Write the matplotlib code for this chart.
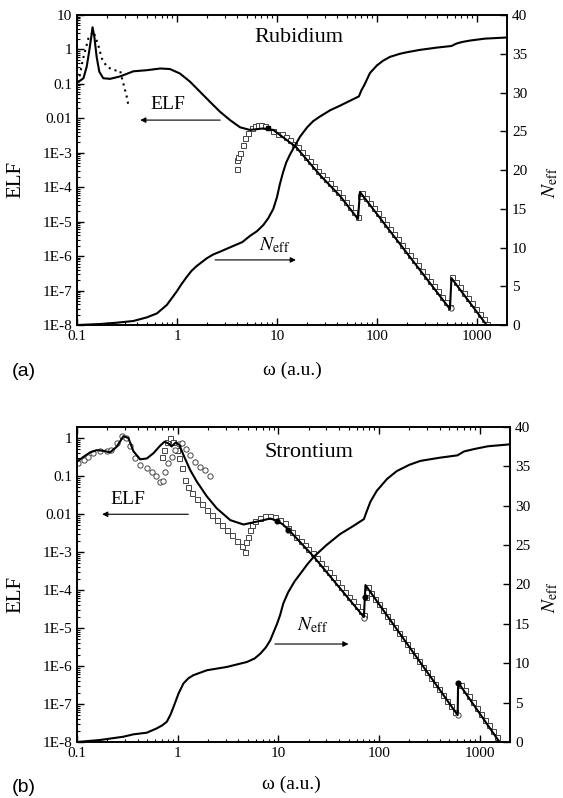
import numpy as np
import matplotlib
matplotlib.use("Agg")
import matplotlib.pyplot as plt
from matplotlib.ticker import FixedLocator, LogLocator, NullFormatter

plt.rcParams["font.family"] = ["Liberation Serif", "DejaVu Serif"]
plt.rcParams["mathtext.fontset"] = "stix"

# ---------------- (a) Rubidium ----------------
rb_w = [0.1, 0.116, 0.125, 0.133, 0.139, 0.143, 0.149, 0.157, 0.167, 0.183, 0.214, 0.27,
        0.366, 0.5, 0.68, 0.85, 1.07, 1.35, 1.7, 2.14, 2.69, 3.39, 4.27, 5.37, 7.3, 9.2,
        10.7, 15.5, 26.9, 42.7, 64.6, 67.6, 537, 556, 1250]
rb_elf = [0.107, 0.146, 0.316, 0.97, 2.35, 4.4, 2.35, 0.62, 0.226, 0.146, 0.14, 0.165,
          0.232, 0.25, 0.28, 0.27, 0.2, 0.116, 0.059, 0.03, 0.0156, 8.9e-3, 5.5e-3, 4.6e-3,
          5.1e-3, 4.6e-3, 3.3e-3, 1.47e-3, 2.26e-4, 5.6e-5, 1.2e-5, 7.3e-5, 2.9e-8, 2.3e-7, 1e-8]

# dotted low-energy curve
rb_dot_w = [0.103, 0.114, 0.13, 0.146, 0.163, 0.177, 0.198, 0.231, 0.27, 0.29, 0.314, 0.326]
rb_dot_elf = [0.11, 0.49, 2.1, 3.3, 1.35, 0.55, 0.32, 0.25, 0.24, 0.105, 0.043, 0.0245]

# open squares
rb_sq_w = [3.95, 4.0, 4.1, 4.27, 4.54, 4.79, 5.18, 5.6, 6.0, 6.5, 7.0, 7.6, 9.2, 10.3,
           11.2, 12.3, 13.5, 14.8, 16.2, 17.8, 19.5, 21.4, 23.4, 25.7, 28.2, 30.9, 33.9,
           37.2, 40.7, 44.7, 49.0, 53.7, 58.9, 64.6,
           67.6,
           70.8, 77.6, 85.1, 93.3, 102, 112, 123, 135, 148, 162, 178, 195, 214, 234, 257,
           282, 309, 339, 372, 407, 447, 490, 537,
           562, 617, 676, 741, 813, 891, 977, 1072, 1175, 1260]
rb_sq_elf = [3.3e-4, 6.0e-4, 7.7e-4, 9.7e-4, 1.68e-3, 2.6e-3, 3.7e-3, 5.1e-3, 5.9e-3, 6.3e-3,
             6.3e-3, 5.9e-3, 4.3e-3, 3.6e-3,
             3.4e-3, 2.78e-3, 2.28e-3, 1.86e-3, 1.44e-3, 1.05e-3, 7.7e-4, 5.7e-4, 4.1e-4,
             3.0e-4, 2.25e-4, 1.7e-4, 1.29e-4, 9.7e-5, 7.3e-5, 5.3e-5, 3.8e-5, 2.7e-5,
             1.92e-5, 1.37e-5,
             5.5e-5,
             7.0e-5, 4.9e-5, 3.5e-5, 2.46e-5, 1.74e-5, 1.23e-5, 8.7e-6, 6.1e-6, 4.3e-6,
             3.06e-6, 2.16e-6, 1.52e-6, 1.08e-6, 7.6e-7, 5.4e-7, 3.8e-7, 2.7e-7, 1.9e-7,
             1.34e-7, 9.5e-8, 6.7e-8, 4.7e-8, 3.3e-8,
             2.5e-7, 1.77e-7, 1.24e-7, 8.7e-8, 6.2e-8, 4.3e-8, 3.0e-8, 2.1e-8, 1.5e-8, 1.1e-8]
rb_fill_w = [8.2]
rb_fill_elf = [5.1e-3]
rb_circ_w = [545]
rb_circ_elf = [3.2e-8]

rb_neff_w = [0.1, 0.17, 0.25, 0.366, 0.5, 0.63, 0.79, 0.99, 1.1, 1.25, 1.4, 1.57, 1.98, 2.3,
             2.69, 3.65, 4.5, 5.37, 6.3, 7.3, 8.2, 9.2, 10.0, 10.7, 11.5, 12.4, 13.5, 14.6,
             17, 20, 23, 26.9, 33.9, 42.7, 55, 66, 70, 75, 85, 100, 115, 135, 170, 200, 269,
             400, 556, 620, 700, 850, 1200, 2000]
rb_neff = [0, 0.13, 0.3, 0.52, 0.99, 1.5, 2.58, 4.3, 5.2, 6.2, 7.0, 7.6, 8.6, 9.1, 9.46,
           10.2, 10.7, 11.5, 12.1, 12.9, 13.8, 15.0, 16.5, 18.2, 19.7, 21.0, 22.0, 22.8,
           24.3, 25.5, 26.3, 26.9, 27.7, 28.3, 29.0, 29.5, 30.3, 31.0, 32.5, 33.5, 34.1,
           34.6, 35.0, 35.2, 35.5, 35.8, 36.0, 36.3, 36.5, 36.7, 36.95, 37.1]

# ---------------- (b) Strontium ----------------
sr_w = [0.1, 0.116, 0.135, 0.157, 0.183, 0.213, 0.248, 0.289, 0.324, 0.363, 0.424, 0.494,
        0.575, 0.67, 0.74, 0.81, 0.87, 0.96, 1.04, 1.14, 1.33, 1.55, 1.95, 2.45, 3.33, 4.5,
        6.1, 8.3, 9.7, 11.2, 13.2, 22.5, 70.7, 73.3, 604, 610, 1570]
sr_elf = [0.238, 0.32, 0.42, 0.48, 0.46, 0.42, 0.59, 1.12, 1.0, 0.45, 0.275, 0.29, 0.40,
          0.63, 0.8, 0.72, 0.6, 0.77, 0.65, 0.36, 0.144, 0.071, 0.029, 0.014, 6.9e-3,
          5.3e-3, 6.3e-3, 7.6e-3, 6.7e-3, 5.2e-3, 3.4e-3, 7.5e-4, 1.95e-5, 1.35e-4, 5.1e-8,
          3.7e-7, 1e-8]

# open circles
sr_circ_w = [0.103, 0.116, 0.13, 0.145, 0.169, 0.197, 0.22, 0.248, 0.278, 0.307, 0.337,
             0.378, 0.424, 0.494, 0.554, 0.61, 0.66, 0.71, 0.75, 0.81, 0.876, 0.945, 1.02,
             1.1, 1.21, 1.33, 1.49, 1.67, 1.88, 2.1, 70.7, 604]
sr_circ_elf = [0.216, 0.26, 0.32, 0.41, 0.46, 0.46, 0.48, 0.72, 1.13, 1.0, 0.6, 0.29, 0.195,
               0.16, 0.13, 0.1, 0.07, 0.074, 0.13, 0.22, 0.32, 0.48, 0.69, 0.74, 0.53, 0.36,
               0.24, 0.175, 0.14, 0.1, 1.8e-5, 5.1e-8]

# open squares
sr_sq_w = [0.70, 0.73, 0.78, 0.83, 0.89, 0.98, 1.04, 1.10, 1.19, 1.28, 1.38, 1.55, 1.74,
           1.95, 2.18, 2.45, 2.75, 3.08, 3.45, 3.87, 4.34, 4.70,
           4.8, 4.95, 5.2, 5.5, 5.9, 6.6, 7.4, 8.3, 9.3, 10.4, 11.7,
           12.6, 13.8, 15.1, 16.6, 18.2, 19.9, 21.9, 24.0, 26.3, 28.9, 31.7, 34.8, 38.2,
           41.9, 45.9, 50.4, 55.3, 60.6, 66.5, 71.2,
           73.5,
           77.3, 84.1, 92.0, 100.8, 110, 121, 132, 145, 159, 174, 190, 208, 228, 250, 274,
           300, 328, 360, 394, 431, 473, 518, 567,
           654, 717, 785, 860, 942, 1030, 1130, 1240, 1350, 1480]
sr_sq_elf = [0.32, 0.48, 0.80, 1.0, 0.77, 0.48, 0.29, 0.16, 0.078, 0.05, 0.035, 0.025,
             0.018, 0.013, 9.5e-3, 7.0e-3, 5.2e-3, 3.8e-3, 2.8e-3, 2.0e-3, 1.4e-3, 9.8e-4,
             1.87e-3, 2.5e-3, 3.8e-3, 5.2e-3, 6.6e-3, 8.0e-3, 9.0e-3, 9.0e-3, 8.4e-3,
             6.9e-3, 5.7e-3,
             4.4e-3, 3.4e-3, 2.56e-3, 1.97e-3, 1.52e-3, 1.17e-3, 9.2e-4, 6.9e-4, 5.2e-4,
             3.9e-4, 2.9e-4, 2.15e-4, 1.6e-4, 1.2e-4, 9.0e-5, 6.7e-5, 5.0e-5, 3.7e-5,
             2.8e-5, 2.2e-5,
             6.6e-5,
             1.18e-4, 8.4e-5, 5.9e-5, 4.2e-5, 2.98e-5, 2.12e-5, 1.5e-5, 1.06e-5, 7.6e-6,
             5.4e-6, 3.8e-6, 2.7e-6, 1.9e-6, 1.36e-6, 9.6e-7, 6.8e-7, 4.8e-7, 3.4e-7,
             2.44e-7, 1.73e-7, 1.22e-7, 8.6e-8, 6.2e-8,
             3.2e-7, 2.3e-7, 1.6e-7, 1.13e-7, 7.9e-8, 5.6e-8, 3.9e-8, 2.8e-8, 1.9e-8, 1.37e-8]
sr_fill_w = [9.7, 12.6, 73.3, 610]
sr_fill_elf = [6.6e-3, 3.9e-3, 6.6e-5, 3.6e-7]

sr_neff_w = [0.1, 0.169, 0.289, 0.363, 0.494, 0.62, 0.7, 0.78, 0.85, 0.91, 1.02, 1.14, 1.28,
             1.43, 1.95, 3.08, 4.87, 5.8, 6.6, 7.5, 8.3, 9.0, 9.7, 10.4, 11.2, 12.5, 14.5,
             16.6, 19.5, 22.4, 30, 41, 55, 70.7, 75, 82, 95, 120, 150, 200, 258, 400, 600,
             700, 880, 1200, 2000]
sr_neff = [0, 0.25, 0.67, 0.97, 1.18, 1.73, 2.1, 2.57, 3.5, 4.47, 6.16, 7.43, 8.1, 8.48,
           9.11, 9.53, 10.16, 10.6, 11.2, 12.0, 12.9, 14.0, 15.0, 16.1, 17.6, 19.0, 20.4,
           21.4, 22.6, 23.5, 25.0, 26.4, 27.4, 28.3, 29.2, 30.5, 31.9, 33.4, 34.4, 35.2,
           35.7, 36.1, 36.4, 36.9, 37.2, 37.55, 37.8]

x_ticks = [0.1, 1, 10, 100, 1000]
x_ticklabels = ["0.1", "1", "10", "100", "1000"]
y_ticks = [1e-8, 1e-7, 1e-6, 1e-5, 1e-4, 1e-3, 1e-2, 1e-1, 1, 10]
y_ticklabels = ["1E-8", "1E-7", "1E-6", "1E-5", "1E-4", "1E-3", "0.01", "0.1", "1", "10"]


def setup(ax, ytop):
    ax.set_xscale("log")
    ax.set_yscale("log")
    ax.set_xlim(0.1, 2000)
    ax.set_ylim(1e-8, ytop)
    ax.xaxis.set_major_locator(FixedLocator(x_ticks))
    ax.set_xticklabels(x_ticklabels)
    ax.xaxis.set_minor_locator(LogLocator(base=10, subs=np.arange(2, 10), numticks=30))
    ax.xaxis.set_minor_formatter(NullFormatter())
    yt = [t for t in y_ticks if t <= ytop]
    ax.yaxis.set_major_locator(FixedLocator(yt))
    ax.set_yticklabels(y_ticklabels[:len(yt)])
    ax.yaxis.set_minor_locator(LogLocator(base=10, subs=np.arange(2, 10), numticks=30))
    ax.yaxis.set_minor_formatter(NullFormatter())
    ax.tick_params(which="major", direction="in", length=5, width=1.0, top=True, labelsize=11)
    ax.tick_params(which="minor", direction="in", length=2.5, width=0.8, top=True)
    for s in ax.spines.values():
        s.set_linewidth(1.2)


def neff_axis(ax, w, n):
    ax2 = ax.twinx()
    ax2.plot(w, n, color="k", lw=1.5)
    ax2.set_ylim(0, 40)
    ax2.set_yticks(range(0, 41, 5))
    ax2.tick_params(direction="in", length=5, width=1.0, labelsize=11)
    ax2.set_ylabel(r"$N_{\rm eff}$", fontsize=14)
    for s in ax2.spines.values():
        s.set_linewidth(1.2)
    return ax2


def arrow(ax, x0, x1, y):
    ax.annotate("", xy=(x1, y), xytext=(x0, y), xycoords="axes fraction",
                arrowprops=dict(arrowstyle="-|>", color="k", lw=0.8, mutation_scale=8,
                                shrinkA=0, shrinkB=0))


fig = plt.figure(figsize=(5.63, 7.98), dpi=100)
sq_style = dict(ls="none", marker="s", ms=3.6, mfc="white", mec="#444444", mew=0.7, zorder=2)
ci_style = dict(ls="none", marker="o", ms=3.8, mfc="white", mec="#444444", mew=0.7, zorder=2)

# panel (a)
ax = fig.add_axes([0.1368, 0.5927, 0.7638, 0.3885])
setup(ax, 10)
ax.plot(rb_sq_w, rb_sq_elf, **sq_style)
ax.plot(rb_circ_w, rb_circ_elf, **ci_style)
ax.plot(rb_w, rb_elf, color="k", lw=1.5, zorder=3)
ax.plot(rb_dot_w, rb_dot_elf, color="k", lw=1.5, ls=(0, (1, 2)), zorder=3)
ax.plot(rb_fill_w, rb_fill_elf, ls="none", marker="s", ms=3.4, color="k", zorder=4)
ax.set_ylabel("ELF", fontsize=15)
ax.yaxis.set_label_coords(-0.121, 0.47)
ax.set_xlabel("ω (a.u.)", fontsize=14)
ax.xaxis.set_label_coords(0.5, -0.119)
ax.text(0.516, 0.926, "Rubidium", transform=ax.transAxes, fontsize=16, ha="center", va="center")
ax.text(0.212, 0.71, "ELF", transform=ax.transAxes, fontsize=14, ha="center", va="center")
arrow(ax, 0.333, 0.147, 0.661)
ax.text(0.46, 0.258, r"$N_{\rm eff}$", transform=ax.transAxes, fontsize=14, ha="center", va="center")
arrow(ax, 0.321, 0.509, 0.21)
ax2 = neff_axis(ax, rb_neff_w, rb_neff)
ax2.yaxis.set_label_coords(1.078, 0.46)

# panel (b)
bx = fig.add_axes([0.1368, 0.0702, 0.7691, 0.3947])
setup(bx, 1.95)
bx.plot(sr_sq_w, sr_sq_elf, **sq_style)
bx.plot(sr_circ_w, sr_circ_elf, **ci_style)
bx.plot(sr_w, sr_elf, color="k", lw=1.5, zorder=3)
bx.plot(sr_fill_w, sr_fill_elf, ls="none", marker="o", ms=3.4, color="k", zorder=4)
bx.set_ylabel("ELF", fontsize=15)
bx.yaxis.set_label_coords(-0.12, 0.467)
bx.set_xlabel("ω (a.u.)", fontsize=14)
bx.xaxis.set_label_coords(0.494, -0.108)
bx.text(0.535, 0.92, "Strontium", transform=bx.transAxes, fontsize=16, ha="center", va="center")
bx.text(0.118, 0.771, "ELF", transform=bx.transAxes, fontsize=14, ha="center", va="center")
arrow(bx, 0.257, 0.058, 0.723)
bx.text(0.543, 0.371, r"$N_{\rm eff}$", transform=bx.transAxes, fontsize=14, ha="center", va="center")
arrow(bx, 0.457, 0.627, 0.311)
bx2 = neff_axis(bx, sr_neff_w, sr_neff)
bx2.yaxis.set_label_coords(1.07, 0.46)

fig.text(12 / 563, 1 - 372 / 798, "(a)", family="Liberation Sans", fontsize=14, va="center")
fig.text(12 / 563, 1 - 788 / 798, "(b)", family="Liberation Sans", fontsize=14, va="center")

fig.savefig("out.png", dpi=100)
